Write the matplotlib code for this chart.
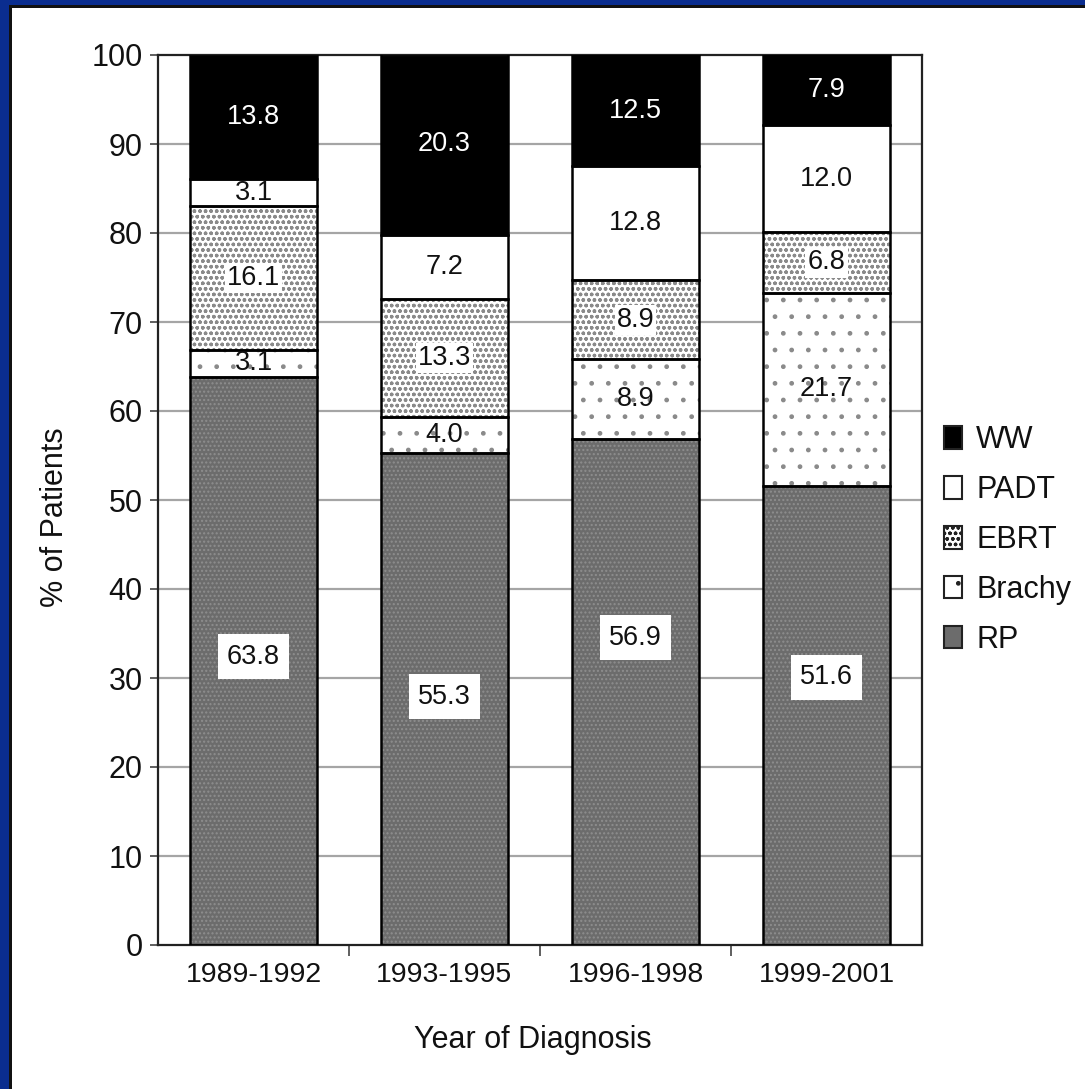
import numpy as np
import matplotlib
matplotlib.use("Agg")
import matplotlib.pyplot as plt
from matplotlib.patches import Patch, Rectangle

plt.rcParams['font.family'] = ['Liberation Sans', 'DejaVu Sans']
plt.rcParams['hatch.linewidth'] = 1.0

# Treatment share (%) by period of diagnosis
periods = ['1989-1992', '1993-1995', '1996-1998', '1999-2001']
rp = [63.8, 55.3, 56.9, 51.6]
brachy = [3.1, 4.0, 8.9, 21.7]
ebrt = [16.1, 13.3, 8.9, 6.8]
padt = [3.1, 7.2, 12.8, 12.0]
ww = [13.8, 20.3, 12.5, 7.9]
series_names = ['RP', 'Brachy', 'EBRT', 'PADT', 'WW']
y_ticks = list(range(0, 101, 10))

# vertical placement of the RP value boxes (in % units)
rp_label_y = [32.4, 27.9, 34.5, 30.1]

W, H = 1085, 1089
fig = plt.figure(figsize=(W / 100, H / 100), dpi=100)
fig.patch.set_facecolor('white')

# slide frame: blue strip with thin dark inner line on top and left
fig.patches.append(Rectangle((0, 1 - 8 / H), 1, 8 / H, transform=fig.transFigure,
                             facecolor='#111111', edgecolor='none', zorder=0))
fig.patches.append(Rectangle((0, 1 - 5 / H), 1, 5 / H, transform=fig.transFigure,
                             facecolor='#0a2d8f', edgecolor='none', zorder=1))
fig.patches.append(Rectangle((0, 0), 12 / W, 1, transform=fig.transFigure,
                             facecolor='#111111', edgecolor='none', zorder=0))
fig.patches.append(Rectangle((0, 0), 9 / W, 1, transform=fig.transFigure,
                             facecolor='#0a2d8f', edgecolor='none', zorder=1))

ax = fig.add_axes([158 / W, 1 - 945 / H, (922 - 158) / W, (945 - 55) / H])

x = np.arange(len(periods))
width = 0.67

styles = {
    'RP':     dict(face='#6c6c6c', hatch='....', hcol='#8e8e8e'),
    'Brachy': dict(face='white',   hatch='.',    hcol='#8a8a8a'),
    'EBRT':   dict(face='white',   hatch='ooo',  hcol='#8a8a8a'),
    'PADT':   dict(face='white',   hatch=None,   hcol='black'),
    'WW':     dict(face='black',   hatch=None,   hcol='black'),
}
values = {'RP': rp, 'Brachy': brachy, 'EBRT': ebrt, 'PADT': padt, 'WW': ww}

bottom = np.zeros(len(periods))
for name in series_names:
    vals = np.array(values[name])
    st = styles[name]
    ax.bar(x, vals, width, bottom=bottom, color=st['face'],
           edgecolor=st['hcol'], hatch=st['hatch'], linewidth=0, zorder=2)
    ax.bar(x, vals, width, bottom=bottom, fill=False,
           edgecolor='black', linewidth=1.8, zorder=3)

    for i, v in enumerate(vals):
        if name == 'RP':
            ax.text(x[i], rp_label_y[i], f'{v:.1f}', ha='center', va='center',
                    fontsize=19.5, color='#111111', zorder=5,
                    bbox=dict(boxstyle='square,pad=0.35', facecolor='white',
                              edgecolor='none'))
        elif name == 'WW':
            ax.text(x[i], bottom[i] + v / 2, f'{v:.1f}', ha='center', va='center',
                    fontsize=19.5, color='white', zorder=5)
        elif name == 'EBRT':
            ax.text(x[i], bottom[i] + v / 2, f'{v:.1f}', ha='center', va='center',
                    fontsize=19.5, color='#111111', zorder=5,
                    bbox=dict(boxstyle='square,pad=0.08', facecolor='white',
                              edgecolor='none'))
        else:
            ax.text(x[i], bottom[i] + v / 2, f'{v:.1f}', ha='center', va='center',
                    fontsize=19.5, color='#111111', zorder=5)
    bottom += vals

# axes styling
ax.set_xlim(-0.5, len(periods) - 0.5)
ax.set_ylim(0, 100)
ax.set_yticks(y_ticks)
ax.set_yticklabels([str(t) for t in y_ticks])
ax.set_xticks(x)
ax.set_xticklabels(periods)
ax.set_xticks(x[:-1] + 0.5, minor=True)
ax.tick_params(axis='x', which='major', length=0, pad=12, labelsize=20.5,
               labelcolor='#111111')
ax.tick_params(axis='x', which='minor', length=8, width=1.2, color='#444444')
ax.tick_params(axis='y', which='major', length=6, width=1.2, pad=5,
               labelsize=22, color='#444444', labelcolor='#111111')
for s in ax.spines.values():
    s.set_linewidth(1.6)
    s.set_color('#222222')

for t in y_ticks[1:-1]:
    ax.axhline(t, color='#a5a5a5', linewidth=1.6, zorder=1)

fig.text(55 / W, 1 - 517 / H, '% of Patients', rotation=90, ha='center',
         va='center', fontsize=22, color='#111111')
fig.text(533 / W, 1 - 1040 / H, 'Year of Diagnosis', ha='center', va='center',
         fontsize=22, color='#111111')

# legend, top entry first
handles = []
for name in reversed(series_names):
    st = styles[name]
    h = None if name == 'RP' else st['hatch']
    handles.append(Patch(facecolor=st['face'], edgecolor='#222222',
                         hatch=h, linewidth=1.5))
fig.legend(handles, list(reversed(series_names)), loc='center left',
           bbox_to_anchor=(944 / W, 1 - 540 / H), frameon=False,
           fontsize=22, handlelength=0.6, handleheight=0.75,
           handletextpad=0.45, labelspacing=0.65, borderpad=0,
           borderaxespad=0, labelcolor='#111111')

fig.savefig('out.png', dpi=100, facecolor='white')
